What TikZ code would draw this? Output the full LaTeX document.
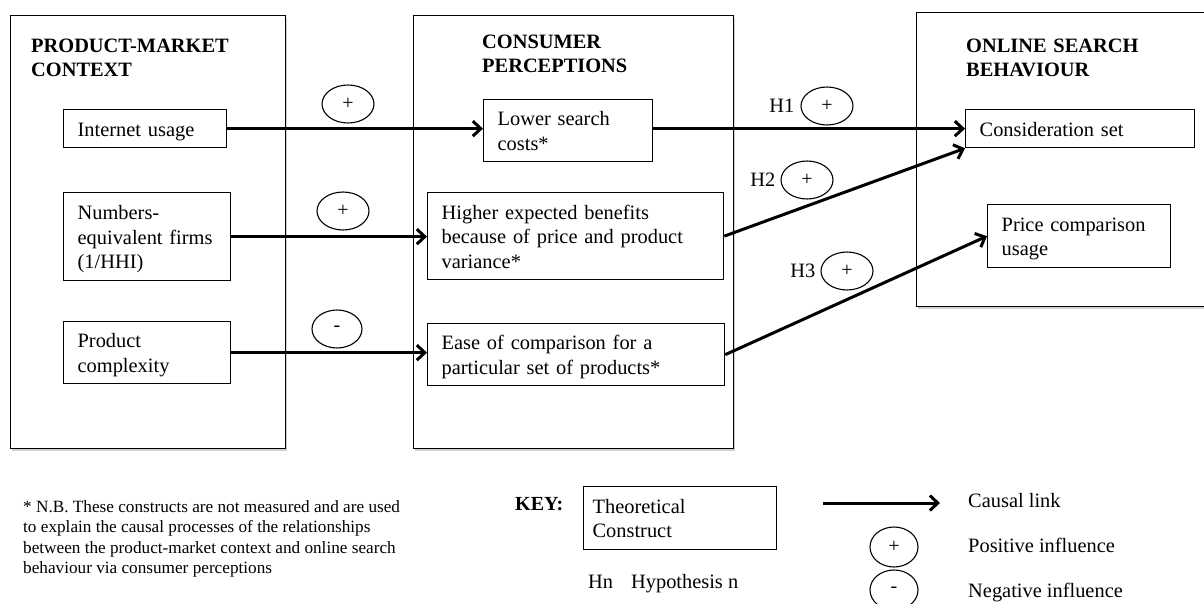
\documentclass[tikz,border=0pt]{standalone}
\usepackage{fontspec}
\setmainfont{Liberation Serif}
\usetikzlibrary{arrows.meta,shapes.geometric,shadows}
\begin{document}
\begin{tikzpicture}[x=1pt,y=-1pt,
  bigbox/.style={draw, line width=1.4pt, anchor=north west, inner sep=0pt, fill=white,
    drop shadow={shadow xshift=1pt, shadow yshift=-2pt, opacity=0.18, fill=black}},
  box/.style={draw, line width=1.3pt, anchor=north west, align=left, inner xsep=14pt, inner ysep=0pt,
    font=\fontsize{20.4}{24.5}\selectfont,
    execute at begin node={\rule{0pt}{20pt}},
    execute at end node={\rule[-5pt]{0pt}{0pt}}},
  head/.style={anchor=base west, align=left, inner sep=0pt, text width=280pt,
    font=\bfseries\fontsize{20.4}{24}\selectfont},
  sign/.style={draw, ellipse, line width=1.1pt, minimum width=52pt, minimum height=38pt, inner sep=0pt,
    font=\fontsize{20}{20}\selectfont},
  hlab/.style={anchor=east, inner sep=0pt, font=\fontsize{20.4}{24}\selectfont},
  link/.style={line width=3pt, -{Straight Barb[length=8pt,width=15pt]}},
  keytext/.style={anchor=base west, inner sep=0pt, font=\fontsize{20.4}{24}\selectfont}
]
\path[use as bounding box, fill=white] (0,0) rectangle (1204,604);
\clip (0,0) rectangle (1204,604);

% containers
\node[bigbox, minimum width=275pt, minimum height=433pt] (pmc) at (10,15) {};
\node[bigbox, minimum width=320pt, minimum height=433pt] (cp) at (413,15) {};
\node[bigbox, minimum width=300pt, minimum height=294pt] (osb) at (916,12) {};

\node[head] (t1) at (31,53) {PRODUCT-MARKET\\CONTEXT};
\node[head] (t2) at (482,49) {CONSUMER\\PERCEPTIONS};
\node[head] (t3) at (966,53) {ONLINE SEARCH\\BEHAVIOUR};

% boxes
\node[box, text width=135pt, minimum height=38pt] (iu) at (63,109) {Internet usage};
\node[box, text width=139pt, minimum height=88pt] (nef) at (63,192) {Numbers-\\equivalent firms\\(1/HHI)};
\node[box, text width=139pt, minimum height=62pt] (pc) at (63,321) {Product\\complexity};

\node[box, text width=141pt, minimum height=62pt] (lsc) at (483,99) {Lower search\\costs*};
\node[box, text width=268pt, minimum height=87pt] (hebp) at (427,192) {Higher expected benefits\\because of price and product\\variance*};
\node[box, text width=269pt, minimum height=62pt] (ease) at (427,323) {Ease of comparison for a\\particular set of products*};

\node[box, text width=201pt, minimum height=38pt] (cs) at (965,109) {Consideration set};
\node[box, text width=155pt, minimum height=63pt] (pcu) at (987,204) {Price comparison\\usage};

% links
\draw[link] (iu.east) -- (iu.east -| lsc.west);
\draw[link] (nef.east) -- (nef.east -| hebp.west);
\draw[link] (pc.east) -- (pc.east -| ease.west);
\draw[link] (cs.west -| lsc.east) -- (cs.west);
\draw[link] (hebp.east) -- (cs.south west);
\draw[link] (ease.east) -- (pcu.west);

% signs
\node[sign] (s1) at (348,104) {+};
\node[sign] (s2) at (343,211) {+};
\node[sign, minimum width=50pt] (s3) at (337,329) {-};
\node[sign] (h1s) at (827,106) {+};
\node[sign] (h2s) at (807,180) {+};
\node[sign] (h3s) at (847,271) {+};
\node[hlab] (h1) at ([xshift=-6pt]h1s.west) {H1};
\node[hlab] (h2) at ([xshift=-5pt]h2s.west) {H2};
\node[hlab] (h3) at ([xshift=-5pt]h3s.west) {H3};

% note
\node[anchor=north west, align=left, inner sep=0pt, font=\fontsize{17.2}{20.5}\selectfont] (note) at (23,500)
 {* N.B. These constructs are not measured and are used\\to explain the causal processes of the relationships\\between the product-market context and online search\\behaviour via consumer perceptions};

% key
\node[keytext, font=\bfseries\fontsize{20}{24}\selectfont] (key) at (515,510) {KEY:};
\node[box, line width=1.2pt, inner xsep=9pt, text width=175pt, minimum height=63pt] (tc) at (583,486) {Theoretical\\Construct};
\node[keytext] (hn) at (588,588) {Hn\hspace{18pt}Hypothesis n};
\coordinate (cla) at (823,503);
\coordinate (clb) at (940,503);
\draw[link] (cla) -- (clb);
\node[keytext] (cl) at (968,507) {Causal link};
\node[sign, minimum width=48pt, minimum height=40pt] (kp) at (894,547) {+};
\node[keytext] (pi) at (968,552) {Positive influence};
\node[sign, minimum width=48pt, minimum height=40pt] (km) at (894,590) {-};
\node[keytext] (ni) at (968,597) {Negative influence};
\end{tikzpicture}
\end{document}
